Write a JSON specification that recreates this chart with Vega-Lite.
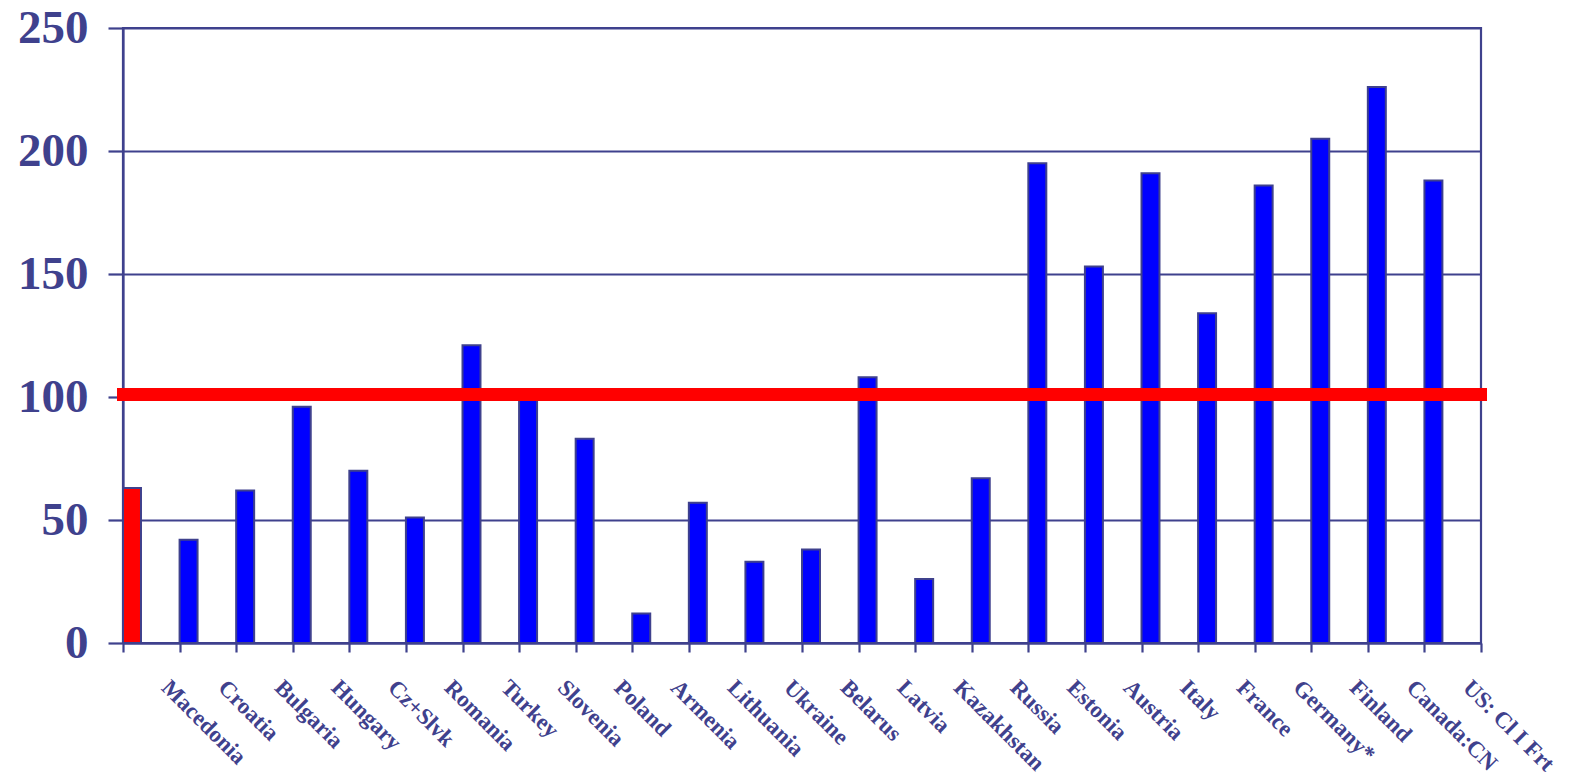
{
  "$schema": "https://vega.github.io/schema/vega-lite/v6.json",
  "autosize": {"type": "none"},
  "width": 1358,
  "height": 615,
  "padding": {"left": 123, "top": 28, "right": 89, "bottom": 136},
  "background": "#ffffff",
  "config": {
    "view": {"stroke": "#3f418d", "strokeWidth": 2.2},
    "font": "Liberation Serif"
  },
  "data": {
    "values": [
      {"country": "Macedonia", "value": 63, "group": "Macedonia", "series": "rate"},
      {"country": "Croatia", "value": 42, "group": "Other", "series": "rate"},
      {"country": "Bulgaria", "value": 62, "group": "Other", "series": "rate"},
      {"country": "Hungary", "value": 96, "group": "Other", "series": "rate"},
      {"country": "Cz+Slvk", "value": 70, "group": "Other", "series": "rate"},
      {"country": "Romania", "value": 51, "group": "Other", "series": "rate"},
      {"country": "Turkey", "value": 121, "group": "Other", "series": "rate"},
      {"country": "Slovenia", "value": 100, "group": "Other", "series": "rate"},
      {"country": "Poland", "value": 83, "group": "Other", "series": "rate"},
      {"country": "Armenia", "value": 12, "group": "Other", "series": "rate"},
      {"country": "Lithuania", "value": 57, "group": "Other", "series": "rate"},
      {"country": "Ukraine", "value": 33, "group": "Other", "series": "rate"},
      {"country": "Belarus", "value": 38, "group": "Other", "series": "rate"},
      {"country": "Latvia", "value": 108, "group": "Other", "series": "rate"},
      {"country": "Kazakhstan", "value": 26, "group": "Other", "series": "rate"},
      {"country": "Russia", "value": 67, "group": "Other", "series": "rate"},
      {"country": "Estonia", "value": 195, "group": "Other", "series": "rate"},
      {"country": "Austria", "value": 153, "group": "Other", "series": "rate"},
      {"country": "Italy", "value": 191, "group": "Other", "series": "rate"},
      {"country": "France", "value": 134, "group": "Other", "series": "rate"},
      {"country": "Germany*", "value": 186, "group": "Other", "series": "rate"},
      {"country": "Finland", "value": 205, "group": "Other", "series": "rate"},
      {"country": "Canada:CN", "value": 226, "group": "Other", "series": "rate"},
      {"country": "US: Cl I Frt", "value": 188, "group": "Other", "series": "rate"}
    ]
  },
  "layer": [
    {
      "mark": {"type": "bar", "stroke": "#3f418d", "strokeWidth": 2, "cornerRadius": 0},
      "encoding": {
        "x": {
          "field": "country",
          "type": "nominal",
          "sort": null,
          "scale": {"paddingInner": 0, "paddingOuter": 0},
          "axis": {
            "title": null,
            "tickBand": "extent",
            "ticks": true,
            "tickSize": 9,
            "tickWidth": 2.2,
            "tickColor": "#3f418d",
            "domainColor": "#3f418d",
            "domainWidth": 2.2,
            "labelAngle": 45,
            "labelAlign": "left",
            "labelBaseline": "bottom",
            "labelPadding": 40,
            "labelOffset": 5,
            "labelFont": "Liberation Serif",
            "labelFontWeight": "bold",
            "labelFontSize": 23,
            "labelColor": "#3f418d",
            "labelOverlap": false,
            "labelLimit": 400
          }
        },
        "xOffset": {
          "field": "series",
          "type": "nominal",
          "scale": {"domain": ["rate", "spare"], "paddingInner": 0.534, "paddingOuter": 0}
        },
        "y": {
          "field": "value",
          "type": "quantitative",
          "scale": {"domain": [0, 250], "nice": false},
          "axis": {
            "title": null,
            "values": [0, 50, 100, 150, 200, 250],
            "grid": true,
            "gridColor": "#3f418d",
            "gridWidth": 2,
            "gridOpacity": 1,
            "tickSize": 15,
            "tickWidth": 2.2,
            "tickColor": "#3f418d",
            "domainColor": "#3f418d",
            "domainWidth": 2.2,
            "labelPadding": 20,
            "labelFont": "Liberation Serif",
            "labelFontWeight": "bold",
            "labelFontSize": 47,
            "labelColor": "#3f418d"
          }
        },
        "color": {
          "field": "group",
          "type": "nominal",
          "scale": {"domain": ["Macedonia", "Other"], "range": ["#ff0000", "#0000ff"]},
          "legend": null
        }
      }
    },
    {
      "mark": {"type": "rule", "color": "#ff0000", "strokeWidth": 11.5, "strokeCap": "square"},
      "encoding": {
        "y": {"datum": 101}
      }
    }
  ]
}
